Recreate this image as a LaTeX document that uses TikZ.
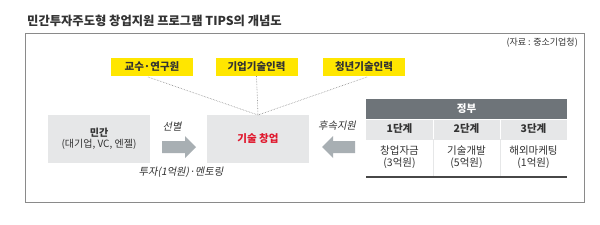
\documentclass[tikz,border=0pt]{standalone}
\usepackage{fontspec}
\newfontfamily\kr{Noto Sans CJK KR}
\newfontfamily\kri[FakeSlant=0.2]{Noto Sans CJK KR}
\usetikzlibrary{positioning}
\definecolor{ylw}{HTML}{FFE600}
\definecolor{lgray}{HTML}{E6E7E8}
\definecolor{dgray}{HTML}{6E7479}
\definecolor{agray}{HTML}{A8AFB3}
\definecolor{framec}{HTML}{8A8A8A}
\definecolor{txt}{HTML}{333333}
\definecolor{redt}{HTML}{E0182D}
\begin{document}
\begin{tikzpicture}[x=1pt,y=-1pt,
  ybox/.style={fill=ylw,minimum width=82pt,minimum height=18pt,inner sep=0pt,font=\kr\fontsize{10.5}{12}\selectfont\bfseries,text=txt},
  gbox/.style={fill=lgray,minimum width=102pt,minimum height=48pt,inner sep=0pt,align=center},
  dotl/.style={densely dotted,draw=gray!90,line width=0.6pt},
  blockarrow/.style={fill=agray},
  lab/.style={font=\kri\fontsize{10.3}{12}\selectfont,text=txt},
  cell/.style={minimum width=67pt,inner sep=0pt,align=center,font=\kr\fontsize{10.5}{12.5}\selectfont,text=txt}
]
\useasboundingbox (0,0) rectangle (600,225);
\fill[white] (0,0) rectangle (600,225);
% title
\node[anchor=west,inner sep=0pt,font=\kr\fontsize{12.3}{13}\selectfont\bfseries,text=txt] (title) at (27,21) {민간투자주도형 창업지원 프로그램 TIPS의 개념도};
% frame
\draw[framec,line width=0.8pt] (25,33) rectangle (584,202);
\node[anchor=east,inner sep=0pt,font=\kr\fontsize{9}{10}\selectfont,text=txt] (src) at (578,43) {(자료 : 중소기업청)};
% yellow boxes
\node[ybox] (y1) at (152,67) {교수·연구원};
\node[ybox] (y2) at (256.5,67) {기업기술인력};
\node[ybox] (y3) at (364,67) {청년기술인력};
% main boxes
\node[gbox] (tech) at (258,139) {\kr\fontsize{10.5}{12}\selectfont\bfseries\color{redt}기술 창업};
\node[gbox] (priv) at (99,139) {\kr\fontsize{10}{11}\selectfont\color{txt}{\bfseries 민간}\\[-0.5pt]\kr\fontsize{10}{11}\selectfont\color{txt}(대기업, VC, 엔젤)};
\coordinate (meet) at (258,115);
\draw[dotl] (148,77) -- (meet);
\draw[dotl] (y2.south) -- (meet);
\draw[dotl] (367,77) -- (meet);
% arrows
\fill[blockarrow] (162,141) -- (185,141) -- (185,136) -- (196,147) -- (185,158) -- (185,153) -- (162,153) -- cycle;
\fill[blockarrow] (355,141) -- (333,141) -- (333,136) -- (322,147) -- (333,158) -- (333,153) -- (355,153) -- cycle;
\node[lab] (sel) at (172,127) {선별};
\node[lab] (inv) at (181,172) {투자(1억원)·멘토링};
\node[lab] (fol) at (337,126) {후속지원};
% table
\fill[dgray] (366,99) rectangle (567,119);
\node[font=\kr\fontsize{10.5}{12}\selectfont\bfseries,text=white] (gov) at (466.5,109) {정부};
\fill[lgray] (366,119.6) rectangle (567,139);
\draw[white,line width=0.6pt] (366,119.3) -- (567,119.3);
\node[cell,font=\kr\fontsize{10.5}{12}\selectfont\bfseries] (s1) at (399.5,129) {1단계};
\node[cell,font=\kr\fontsize{10.5}{12}\selectfont\bfseries] (s2) at (466.5,129) {2단계};
\node[cell,font=\kr\fontsize{10.5}{12}\selectfont\bfseries] (s3) at (533.5,129) {3단계};
\draw[white,line width=0.6pt] (433,119.6) -- (433,139);
\draw[white,line width=0.6pt] (500,119.6) -- (500,139);
\draw[lgray,line width=0.6pt] (433,139) -- (433,177);
\draw[lgray,line width=0.6pt] (500,139) -- (500,177);
\draw[lgray,line width=0.6pt] (366,139) -- (567,139);
\node[cell] (c1) at (399.5,157) {창업자금\\(3억원)};
\node[cell] (c2) at (466.5,157) {기술개발\\(5억원)};
\node[cell] (c3) at (533.5,157) {해외마케팅\\(1억원)};
\draw[txt!90,line width=1.6pt] (366,177) -- (567,177);
\end{tikzpicture}
\end{document}
